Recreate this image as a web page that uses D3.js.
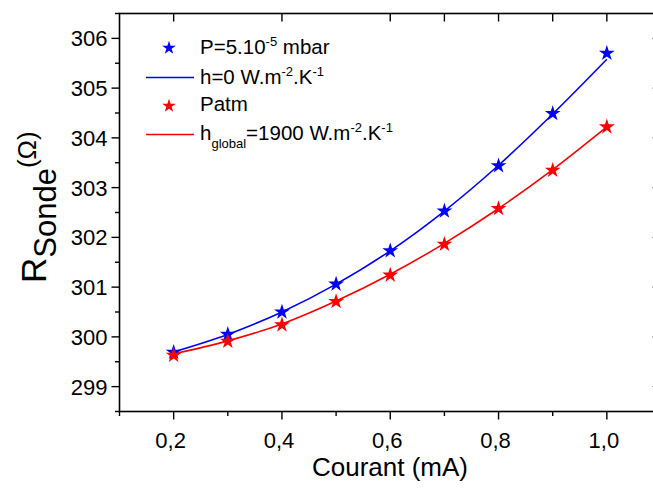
<!DOCTYPE html>
<html><head><meta charset="utf-8">
<script src="https://cdn.jsdelivr.net/npm/d3@7"></script>
<style>
body{margin:0;background:#fff;}
svg{display:block;font-family:"Liberation Sans",Arial,sans-serif;}
</style></head>
<body><svg id="c" width="653" height="489"></svg>
<script>
const currents = [0.2,0.3,0.4,0.5,0.6,0.7,0.8,0.9,1.0];
const vacuumMeasured = [299.71,300.07,300.52,301.08,301.75,302.55,303.46,304.51,305.72];
const vacuumModel    = [299.70,300.05,300.50,301.06,301.73,302.53,303.45,304.48,305.58];
const atmMeasured    = [299.65,299.93,300.26,300.73,301.26,301.88,302.60,303.37,304.24];
const atmModel       = [299.66,299.92,300.26,300.72,301.26,301.88,302.58,303.36,304.22];
const xTicks = [0.2,0.4,0.6,0.8,1.0];
const xTickLabels = ["0,2","0,4","0,6","0,8","1,0"];
const xMinorTicks = [0.1,0.3,0.5,0.7,0.9,1.1];
const topTicks = [0.2,0.4,0.6,0.7,0.8,0.9,1.0];
const yTicks = [299,300,301,302,303,304,305,306];
const yMinorTicks = [298.5,299.5,300.5,301.5,302.5,303.5,304.5,305.5,306.5];

const svg = d3.select("#c");
const L=119.5, R=661, T=13.5, B=411.5;
const x = d3.scaleLinear().domain([0.1,1.1]).range([L,R]);
const y = d3.scaleLinear().domain([298.5,306.5]).range([B,T]);

// frame
svg.append("rect").attr("x",L).attr("y",T).attr("width",R-L).attr("height",B-T)
  .attr("fill","none").attr("stroke","#000").attr("stroke-width",1.6);

const tk = svg.append("g").attr("stroke","#000").attr("stroke-width",1.4);
xTicks.forEach(v=>tk.append("line").attr("x1",x(v)).attr("x2",x(v)).attr("y1",B).attr("y2",B+8));
xMinorTicks.forEach(v=>tk.append("line").attr("x1",x(v)).attr("x2",x(v)).attr("y1",B).attr("y2",B+4.5));
topTicks.forEach(v=>tk.append("line").attr("x1",x(v)).attr("x2",x(v)).attr("y1",T).attr("y2",T+8));
yTicks.forEach(v=>tk.append("line").attr("x1",L-8).attr("x2",L).attr("y1",y(v)).attr("y2",y(v)));
yMinorTicks.forEach(v=>tk.append("line").attr("x1",L-4.5).attr("x2",L).attr("y1",y(v)).attr("y2",y(v)));
yTicks.forEach(v=>tk.append("line").attr("x1",R-9).attr("x2",R).attr("y1",y(v)).attr("y2",y(v)).attr("stroke","#888").attr("stroke-width",1));

// tick labels
svg.append("g").selectAll("text").data(xTicks).join("text")
  .attr("x",d=>x(d)-3).attr("y",B+36).attr("text-anchor","middle")
  .attr("font-size",22).text((d,i)=>xTickLabels[i]);
svg.append("g").selectAll("text").data(yTicks).join("text")
  .attr("x",L-12).attr("y",d=>y(d)+8).attr("text-anchor","end")
  .attr("font-size",22).text(d=>d);

// axis titles
svg.append("text").attr("x",390).attr("y",476).attr("text-anchor","middle")
  .attr("font-size",26).text("Courant (mA)");
const yt = svg.append("text").attr("transform","translate(46,283) rotate(-90)").attr("font-size",35);
yt.append("tspan").text("R");
yt.append("tspan").attr("dy",10).attr("font-size",31).text("Sonde");
yt.append("tspan").attr("dy",-20).attr("font-size",26).text("(Ω)");

// lines
const line = d3.line().x((d,i)=>x(currents[i])).y(d=>y(d)).curve(d3.curveMonotoneX);
svg.append("path").attr("d",line(vacuumModel)).attr("fill","none").attr("stroke","#0000ff").attr("stroke-width",1.6);
svg.append("path").attr("d",line(atmModel)).attr("fill","none").attr("stroke","#ff0000").attr("stroke-width",1.6);

const star = d3.symbol().type(d3.symbolStar).size(78);
svg.append("g").selectAll("path").data(vacuumMeasured).join("path")
  .attr("transform",(d,i)=>`translate(${x(currents[i])},${y(d)+1})`).attr("d",star).attr("fill","#0000ff");
svg.append("g").selectAll("path").data(atmMeasured).join("path")
  .attr("transform",(d,i)=>`translate(${x(currents[i])},${y(d)+1})`).attr("d",star).attr("fill","#ff0000");

// legend
const lg = svg.append("g").attr("font-size",20.5);
const starL = d3.symbol().type(d3.symbolStar).size(58);
lg.append("path").attr("d",starL).attr("transform","translate(169,48)").attr("fill","#0000ff");
lg.append("path").attr("d",starL).attr("transform","translate(169,106)").attr("fill","#ff0000");
lg.append("line").attr("x1",146).attr("x2",194).attr("y1",77.5).attr("y2",77.5).attr("stroke","#0000ff").attr("stroke-width",1.6);
lg.append("line").attr("x1",146).attr("x2",194).attr("y1",134.5).attr("y2",134.5).attr("stroke","#ff0000").attr("stroke-width",1.6);
const SS = 13;
let t1 = lg.append("text").attr("x",200).attr("y",54);
t1.append("tspan").text("P=5.10"); t1.append("tspan").attr("dy",-8).attr("font-size",SS).text("-5");
t1.append("tspan").attr("dy",8).text(" mbar");
let t2 = lg.append("text").attr("x",200).attr("y",84);
t2.append("tspan").text("h=0 W.m"); t2.append("tspan").attr("dy",-8).attr("font-size",SS).text("-2");
t2.append("tspan").attr("dy",8).text(".K"); t2.append("tspan").attr("dy",-8).attr("font-size",SS).text("-1");
lg.append("text").attr("x",200).attr("y",111).text("Patm");
let t4 = lg.append("text").attr("x",200).attr("y",140);
t4.append("tspan").text("h"); t4.append("tspan").attr("dy",8).attr("font-size",SS).text("global");
t4.append("tspan").attr("dy",-8).text("=1900 W.m"); t4.append("tspan").attr("dy",-8).attr("font-size",SS).text("-2");
t4.append("tspan").attr("dy",8).text(".K"); t4.append("tspan").attr("dy",-8).attr("font-size",SS).text("-1");
</script></body></html>
